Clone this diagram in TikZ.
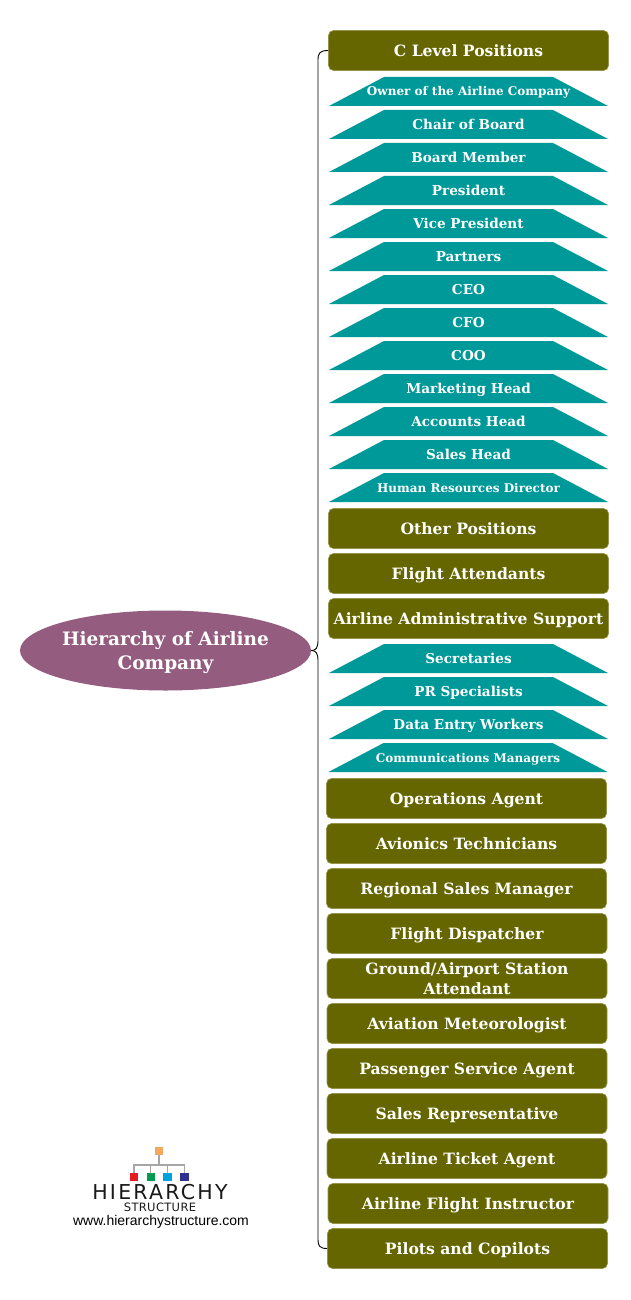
\documentclass[tikz,border=0pt]{standalone}
\usepackage{fontspec}
\setmainfont{DejaVu Serif}
\newfontfamily\urlfont{Liberation Sans}
\newfontfamily\logofont[LetterSpace=11]{DejaVu Sans}
\newfontfamily\logosub[LetterSpace=3]{DejaVu Sans}
\usetikzlibrary{shapes.geometric}
\definecolor{olivebox}{HTML}{666600}
\definecolor{tealbox}{HTML}{009999}
\definecolor{rootc}{HTML}{945C7F}
\definecolor{lgo}{HTML}{F4A95F}
\definecolor{lgr}{HTML}{E31B23}
\definecolor{lgg}{HTML}{009A50}
\definecolor{lgc}{HTML}{00A3E0}
\definecolor{lgb}{HTML}{2E3192}
\tikzset{
 x=1pt,y=-1pt,
 posbox/.style={draw=olivebox!70!white,line width=.6pt,fill=olivebox,rounded corners=5pt,minimum width=280pt,minimum height=40pt,inner sep=0pt,align=center,text=white,text height=14pt,text depth=2pt,font=\fontsize{15.6}{20}\selectfont\bfseries},
 twoline/.style={posbox,text height=,text depth=},
 subtrap/.style={rectangle,minimum width=279pt,minimum height=29pt,inner sep=0pt,outer sep=0pt,align=center,text=white,text height=12pt,text depth=2pt,font=\fontsize{13.6}{17}\selectfont\bfseries,
  path picture={\fill[tealbox] (path picture bounding box.south west) -- (path picture bounding box.south east) -- ([xshift=-55pt]path picture bounding box.north east) -- ([xshift=55pt]path picture bounding box.north west) -- cycle;}},
 smalltrap/.style={subtrap,text height=11pt,text depth=2pt,font=\fontsize{12}{15}\selectfont\bfseries},
 conn/.style={draw=black,line width=.9pt},
 logosq/.style={minimum size=8.5pt,inner sep=0pt,draw=none},
 logoline/.style={draw=black!35,line width=1.2pt},
}
\begin{document}
\begin{tikzpicture}
\useasboundingbox (0,0) rectangle (630,1300);
\node[ellipse,fill=rootc,minimum width=291pt,minimum height=80pt,inner sep=-20pt,text=white,font=\fontsize{18.5}{24}\selectfont\bfseries] (root) at (165.5,650.5) {\raisebox{-2pt}[\height][\depth]{\begin{tabular}{@{}c@{}}Hierarchy of Airline\\[0pt]Company\end{tabular}}};
\node[posbox] (c) at (468.5,50.5) {C Level Positions};
\foreach \n/\y/\t in {t1/91.5/Owner of the Airline Company}{\node[smalltrap] (\n) at (468.5,\y) {\t};}
\foreach \n/\y/\t in {t2/124.5/Chair of Board,t3/157.5/Board Member,t4/190.5/President,t5/223.5/Vice President,t6/256.5/Partners,t7/289.5/CEO,t8/322.5/CFO,t9/355.5/COO,t10/388.5/Marketing Head,t11/421.5/Accounts Head,t12/454.5/Sales Head}{\node[subtrap] (\n) at (468.5,\y) {\t};}
\node[smalltrap] (t13) at (468.5,487.5) {Human Resources Director};
\node[posbox] (o) at (468.5,528.5) {Other Positions};
\node[posbox] (f) at (468.5,573.5) {Flight Attendants};
\node[posbox] (a) at (468.5,618.5) {Airline Administrative Support};
\foreach \n/\y/\t in {s1/658.5/Secretaries,s2/691.5/PR Specialists,s3/724.5/Data Entry Workers}{\node[subtrap] (\n) at (468.5,\y) {\t};}
\node[smalltrap] (s4) at (468,757.5) {Communications Managers};
\foreach \n/\x/\y/\t in {b1/466.5/798.5/Operations Agent,b2/466.5/843.5/Avionics Technicians,b3/466.5/888.5/Regional Sales Manager,b4/467/933.5/Flight Dispatcher,b6/467/1023.5/Aviation Meteorologist,b7/467/1068.5/Passenger Service Agent,b8/467/1113.5/Sales Representative,b9/467/1158.5/Airline Ticket Agent,b10/468/1203.5/Airline Flight Instructor,b11/467.5/1248.5/Pilots and Copilots}{\node[posbox] (\n) at (\x,\y) {\t};}
\node[twoline] (b5) at (467,978.5) {Ground/Airport Station\\Attendant};
\draw[conn] (root.east) .. controls (316,650.5) and (318,648) .. (318,640) -- (318,60) .. controls (318,53) and (320,50.5) .. (c.west);
\draw[conn] (root.east) .. controls (316,650.5) and (318,653) .. (318,661) -- (318,1240) .. controls (318,1246) and (320,1248.5) .. (b11.west);
% logo
\node[logosq,fill=lgo] (lg) at (159,1151) {};
\node[logosq,fill=lgr] (l1) at (134,1177) {};
\node[logosq,fill=lgg] (l2) at (150.8,1177) {};
\node[logosq,fill=lgc] (l3) at (167.5,1177) {};
\node[logosq,fill=lgb] (l4) at (184.3,1177) {};
\coordinate (lm) at (159,1165);
\draw[logoline] (lg.south) -- (lm);
\draw[logoline] (l1.north) |- (lm) -| (l4.north);
\draw[logoline] (l2.north) -- (l2.north |- lm);
\draw[logoline] (l3.north) -- (l3.north |- lm);
\node[inner sep=0pt,font=\logofont\fontsize{20.5}{20}\selectfont,text=black!90] (lh) at (160,1192) {HIERARCHY};
\node[inner sep=0pt,font=\logosub\fontsize{11.5}{12}\selectfont,text=black!90] (ls) at (160,1207) {STRUCTURE};
\node[inner sep=0pt,font=\urlfont\fontsize{14}{14}\selectfont] (lu) at (161,1222) {www.hierarchystructure.com};
\end{tikzpicture}
\end{document}
